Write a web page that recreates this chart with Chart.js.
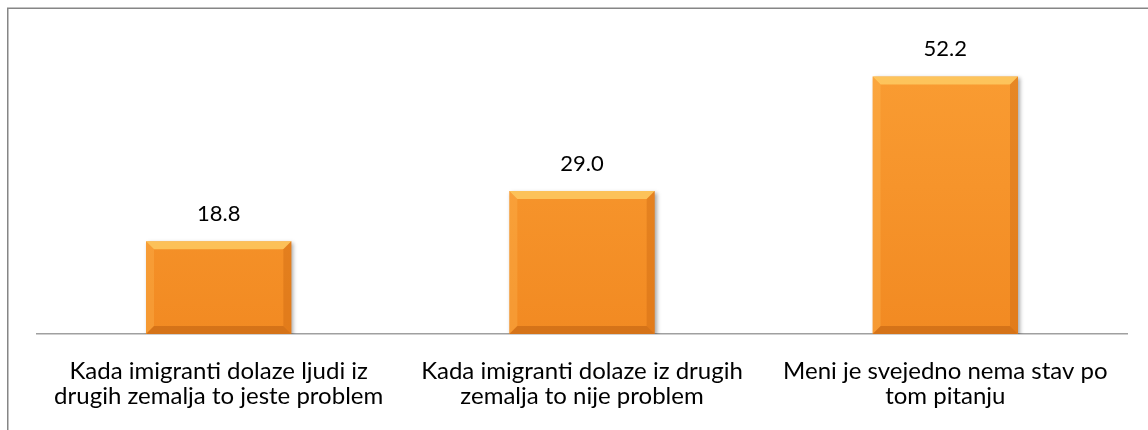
<!DOCTYPE html>
<html>
<head>
<meta charset="utf-8">
<script src="https://cdn.jsdelivr.net/npm/chart.js@4/dist/chart.umd.min.js"></script>
<style>
  body { margin: 0; background: #ffffff; }
  #wrap { width: 1148px; height: 430px; }
</style>
</head>
<body>
<div id="wrap"><canvas id="chart" width="1148" height="430"></canvas></div>
<script>
// chart data
const categories = [
    ['Kada imigranti dolaze ljudi iz', 'drugih zemalja to jeste problem'],
    ['Kada imigranti dolaze iz drugih', 'zemalja to nije problem'],
    ['Meni je svejedno nema stav po', 'tom pitanju']
]
const values = [18.8, 29.0, 52.2]

const FONT = "Lato, 'Open Sans', sans-serif"

// gray frame around the picture (top and left edge only visible)
const framePlugin = {
    id: 'frame',
    beforeDraw(chart){
        const ctx = chart.ctx
        ctx.save()
        ctx.strokeStyle = '#868686'
        ctx.lineWidth = 1.5
        ctx.beginPath()
        ctx.moveTo(7.75, 430)
        ctx.lineTo(7.75, 8.25)
        ctx.lineTo(1148, 8.25)
        ctx.stroke()
        ctx.restore()
    }
}

// soft shadow behind bars
const shadowPlugin = {
    id: 'barShadow',
    beforeDatasetDraw(chart){
        const ctx = chart.ctx
        ctx.save()
        ctx.shadowColor = 'rgba(0,0,0,0.35)'
        ctx.shadowBlur = 4
        ctx.shadowOffsetX = 2
        ctx.shadowOffsetY = 2
    },
    afterDatasetDraw(chart){
        chart.ctx.restore()
    }
}

// bevel edges + value labels
const bevelPlugin = {
    id: 'bevel',
    afterDatasetsDraw(chart){
        const ctx = chart.ctx
        const meta = chart.getDatasetMeta(0)
        meta.data.forEach((bar, i) => {
            const l = bar.x - bar.width / 2
            const r = bar.x + bar.width / 2
            const t = bar.y
            const b = bar.base
            const s = 8
            const poly = (pts, col) => {
                ctx.fillStyle = col
                ctx.beginPath()
                ctx.moveTo(pts[0][0], pts[0][1])
                for(let k=1; k<pts.length; k++) ctx.lineTo(pts[k][0], pts[k][1])
                ctx.closePath()
                ctx.fill()
            }
            ctx.save()
            poly([[l,t],[r,t],[r-s,t+s],[l+s,t+s]], 'rgba(255,214,110,0.7)')
            poly([[l,t],[l+s,t+s],[l+s,b-s],[l,b]], 'rgba(255,190,90,0.3)')
            poly([[r,t],[r,b],[r-s,b-s],[r-s,t+s]], 'rgba(190,90,10,0.3)')
            poly([[l,b],[l+s,b-s],[r-s,b-s],[r,b]], 'rgba(170,80,10,0.4)')
            ctx.restore()

            ctx.save()
            ctx.fillStyle = '#000000'
            ctx.font = `22px ${FONT}`
            ctx.textAlign = 'center'
            ctx.textBaseline = 'alphabetic'
            ctx.fillText(values[i].toFixed(1), bar.x, t - 20)
            ctx.restore()
        })
    }
}

new Chart('chart', {
    type: 'bar',
    data: {
        labels: categories,
        datasets: [{
            data: values,
            backgroundColor: (c) => {
                const area = c.chart.chartArea
                if(!area) return '#F7962A'
                const g = c.chart.ctx.createLinearGradient(0, area.top, 0, area.bottom)
                g.addColorStop(0, '#FA9E34')
                g.addColorStop(1, '#F28A22')
                return g
            },
            borderWidth: 0,
            categoryPercentage: 1,
            barPercentage: 0.4
        }]
    },
    options: {
        responsive: false,
        animation: false,
        events: [],
        layout: { padding: { left: 37, right: 21, top: 38, bottom: 0 } },
        plugins: { legend: { display: false }, tooltip: { enabled: false } },
        scales: {
            x: {
                grid: { display: false, drawTicks: false },
                border: { display: true, color: '#a0a0a0', width: 1.5 },
                ticks: {
                    color: '#000000',
                    font: { family: FONT, size: 24, lineHeight: '25px' },
                    padding: 25,
                    maxRotation: 0,
                    autoSkip: false
                },
                afterFit(scale){ scale.height = 96 }
            },
            y: { display: false, min: 0, max: 60 }
        }
    },
    plugins: [framePlugin, shadowPlugin, bevelPlugin]
})
</script>
</body>
</html>
